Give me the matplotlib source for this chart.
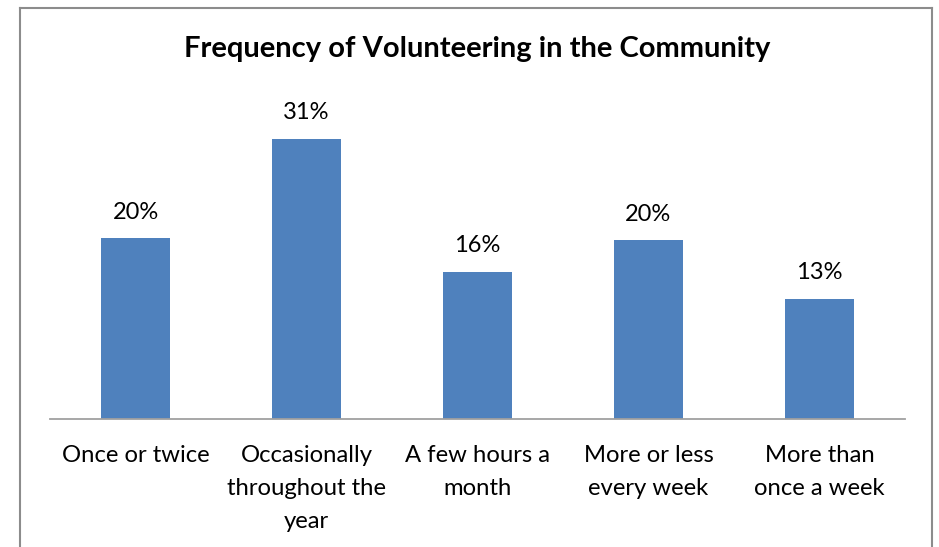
import matplotlib.pyplot as plt
from matplotlib.lines import Line2D

# data
categories = ['Once or twice', 'Occasionally\nthroughout the\nyear', 'A few hours a\nmonth',
              'More or less\nevery week', 'More than\nonce a week']
values = [20.0, 31.0, 16.3, 19.8, 13.3]

plt.rcParams['font.family'] = ['Lato', 'DejaVu Sans']

W, H = 939, 547
fig = plt.figure(figsize=(W / 100, H / 100), dpi=100)
ax = fig.add_axes([50 / W, 128 / H, 855 / W, 320 / H])

x = range(len(categories))
bars = ax.bar(x, values, width=0.4, color='#4F81BD')
for b, v in zip(bars, values):
    ax.text(b.get_x() + b.get_width() / 2, v + 1.7, f'{round(v)}%',
            ha='center', va='bottom', fontsize=17)

ax.set_xlim(-0.5, len(categories) - 0.5)
ax.set_ylim(0, 320 / 9.04)
ax.set_yticks([])
ax.set_xticks(list(x))
ax.set_xticklabels(categories, fontsize=17.2, linespacing=1.72)
ax.tick_params(axis='x', length=0, pad=18.5)
for s in ['top', 'right', 'left']:
    ax.spines[s].set_visible(False)
ax.spines['bottom'].set_color('#A0A0A0')
ax.spines['bottom'].set_linewidth(1.3)

fig.text(477 / W, 1 - 49 / H, 'Frequency of Volunteering in the Community',
         ha='center', va='center', fontsize=21, fontweight='bold')

# chart border
c = '#8C8C8C'
fig.add_artist(Line2D([20 / W, 20 / W], [0, 1 - 8 / H], color=c, lw=1.5, transform=fig.transFigure))
fig.add_artist(Line2D([20 / W, 932 / W], [1 - 8 / H, 1 - 8 / H], color=c, lw=1.5, transform=fig.transFigure))
fig.add_artist(Line2D([932 / W, 932 / W], [0, 1 - 8 / H], color=c, lw=1.5, transform=fig.transFigure))

fig.savefig('out.png', dpi=100)
